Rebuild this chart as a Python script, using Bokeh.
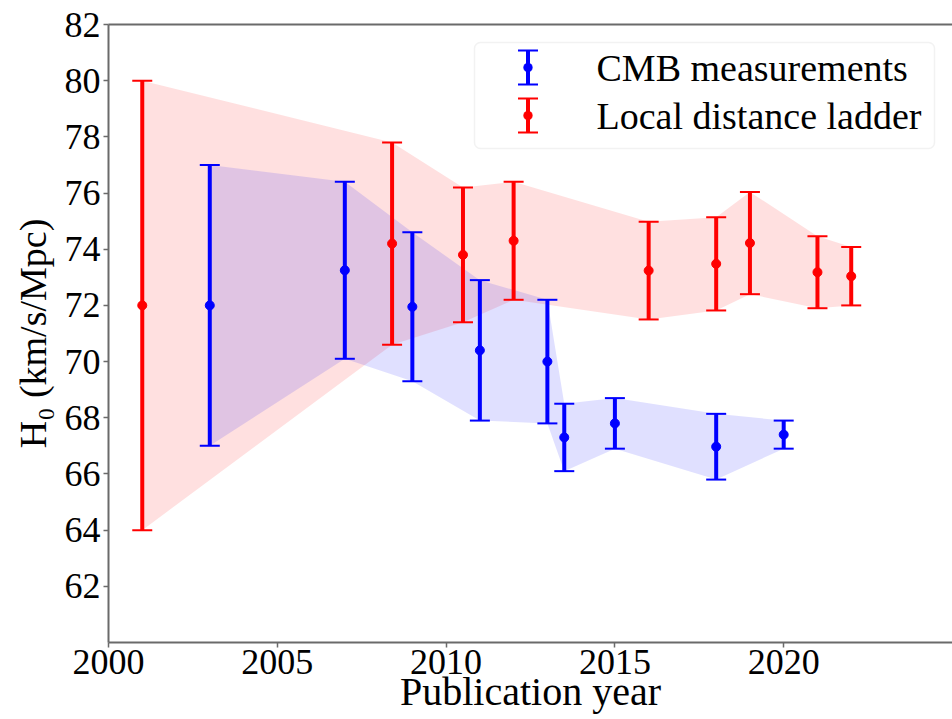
from bokeh.plotting import figure
from bokeh.models import (ColumnDataSource, Whisker, TeeHead, FixedTicker, Range1d,
                          BoxAnnotation, Label, LinearAxis)
from bokeh.embed import file_html
from bokeh.resources import INLINE

# ---- data ----
cmb_year = [2003, 2007, 2009, 2011, 2013, 2013.5, 2015, 2018, 2020]
cmb_h0 = [72.0, 73.25, 71.95, 70.4, 70.0, 67.3, 67.8, 66.97, 67.4]
cmb_err = [5.0, 3.15, 2.65, 2.5, 2.2, 1.2, 0.9, 1.17, 0.5]

local_year = [2001, 2008.4, 2010.5, 2012, 2016, 2018, 2019, 2021, 2022]
local_h0 = [72.0, 74.2, 73.8, 74.3, 73.24, 73.48, 74.22, 73.18, 73.04]
local_err = [8.0, 3.6, 2.4, 2.1, 1.74, 1.66, 1.82, 1.28, 1.04]

x_ticks = [2000, 2005, 2010, 2015, 2020]
y_ticks = [62, 64, 66, 68, 70, 72, 74, 76, 78, 80, 82]

series_labels = ["CMB measurements", "Local distance ladder"]
RED = "#ff0000"
BLUE = "#0000ff"
FONT = "'Liberation Serif', 'Times New Roman', serif"
SPINE = "#6a6a6a"


def make_source(xs, ys, es):
    return ColumnDataSource(dict(
        x=xs, y=ys,
        lo=[a - b for a, b in zip(ys, es)],
        hi=[a + b for a, b in zip(ys, es)],
    ))


cmb_src = make_source(cmb_year, cmb_h0, cmb_err)
loc_src = make_source(local_year, local_h0, local_err)

p = figure(width=952, height=719, output_backend="svg", toolbar_location=None,
           x_range=Range1d(2000, 2025), y_range=Range1d(60, 82),
           min_border_left=108, min_border_right=0, min_border_top=24,
           min_border_bottom=77)
p.grid.visible = False
p.outline_line_color = None
p.background_fill_color = "white"

xax = p.below[0]
yax = p.left[0]

# legend frame (under everything)
p.add_layout(BoxAnnotation(left=366, right=826, top=600, bottom=494,
                           left_units="screen", right_units="screen",
                           top_units="screen", bottom_units="screen",
                           fill_color="white", fill_alpha=0.8,
                           line_color="#d4d4d4", line_width=1.5,
                           border_radius=6, level="underlay"))

# shaded bands
p.varea(x="x", y1="lo", y2="hi", source=loc_src, fill_color=RED, fill_alpha=0.12)
p.varea(x="x", y1="lo", y2="hi", source=cmb_src, fill_color=BLUE, fill_alpha=0.12)

# error bars
for src, col in ((loc_src, RED), (cmb_src, BLUE)):
    w = Whisker(source=src, base="x", upper="hi", lower="lo", dimension="height",
                line_color=col, line_width=4, level="annotation",
                upper_head=TeeHead(size=20, line_color=col, line_width=2),
                lower_head=TeeHead(size=20, line_color=col, line_width=2))
    p.add_layout(w)
    r = p.scatter(x="x", y="y", source=src, size=9, color=col)
    r.level = "overlay"

# axes
for ax in (xax, yax):
    ax.axis_line_color = SPINE
    ax.axis_line_width = 2
    ax.major_tick_line_color = SPINE
    ax.major_tick_line_width = 1.5
    ax.major_tick_out = 5
    ax.major_tick_in = 0
    ax.minor_tick_line_color = None
    ax.major_label_text_font = FONT
    ax.major_label_text_font_size = "36px"
    ax.major_label_text_color = "black"
    ax.axis_label_text_font = FONT
    ax.axis_label_text_font_style = "normal"
    ax.axis_label_text_color = "black"

xax.axis_label_text_font_size = "40px"
yax.axis_label_text_font_size = "38px"
xax.ticker = FixedTicker(ticks=x_ticks)
yax.ticker = FixedTicker(ticks=y_ticks)
xax.axis_label = "Publication year"
yax.axis_label = "H\u2080 (km/s/Mpc)"
xax.major_label_standoff = 2
xax.axis_label_standoff = -8
yax.major_label_standoff = 3
yax.axis_label_standoff = 8

# top spine (the right spine falls outside the picture)
top = LinearAxis(ticker=FixedTicker(ticks=[]), axis_line_color=SPINE,
                 axis_line_width=2, major_tick_line_color=None,
                 minor_tick_line_color=None, major_label_text_font_size="0px",
                 major_tick_out=0, major_tick_in=0, major_label_standoff=0)
p.add_layout(top, "above")

# legend keys and labels (drawn manually so the keys look like error bars)
key_y = [575, 527]
for lab, col, ky in zip(series_labels, [BLUE, RED], key_y):
    ksrc = ColumnDataSource(dict(b=[419.5], u=[ky + 17], l=[ky - 17]))
    p.add_layout(Whisker(source=ksrc, base="b", upper="u", lower="l",
                         dimension="height", base_units="screen",
                         upper_units="screen", lower_units="screen",
                         line_color=col, line_width=4, level="annotation",
                         upper_head=TeeHead(size=20, line_color=col, line_width=2),
                         lower_head=TeeHead(size=20, line_color=col, line_width=2)))
    p.add_layout(BoxAnnotation(left=415, right=424, top=ky + 4.5, bottom=ky - 4.5,
                               left_units="screen", right_units="screen",
                               top_units="screen", bottom_units="screen",
                               fill_color=col, fill_alpha=1, line_color=col,
                               border_radius=5, level="annotation"))
    p.add_layout(Label(x=488, y=ky, x_units="screen", y_units="screen", text=lab,
                       text_font=FONT, text_font_size="38px", text_color="black",
                       text_baseline="middle", text_align="left"))

open("out.html", "w").write(file_html(p, INLINE))
